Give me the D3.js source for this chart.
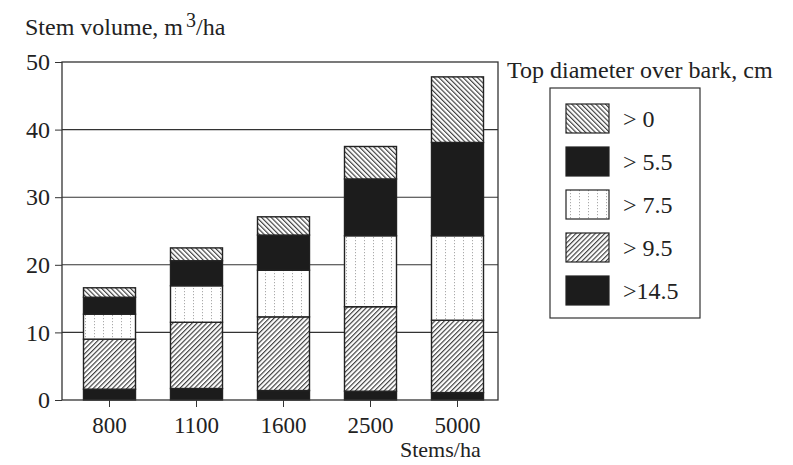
<!DOCTYPE html>
<html><head><meta charset="utf-8">
<script src="https://cdn.jsdelivr.net/npm/d3@7"></script>
<style>body{margin:0;background:#fff}svg{display:block}text{font-family:"Liberation Serif","DejaVu Serif",serif;fill:#222}</style>
</head><body><svg id="c" width="793" height="465"></svg>
<script>
const categories = ["800","1100","1600","2500","5000"];
const classes = [">14.5","> 9.5","> 7.5","> 5.5","> 0"];
const v145 = [1.6, 1.7, 1.4, 1.3, 1.1];
const v95  = [7.4, 9.8, 10.9, 12.5, 10.7];
const v75  = [3.7, 5.4, 6.9, 10.5, 12.5];
const v55  = [2.5, 3.7, 5.2, 8.4, 13.8];
const v0   = [1.4, 1.9, 2.7, 4.8, 9.7];
const yTicks = [0,10,20,30,40,50];
const legendOrder = ["> 0","> 5.5","> 7.5","> 9.5",">14.5"];

const svg = d3.select("#c");
const defs = svg.append("defs");
function hatch(id, angle){
  const p = defs.append("pattern").attr("id",id).attr("patternUnits","userSpaceOnUse")
    .attr("width",3.4).attr("height",3.4).attr("patternTransform",`rotate(${angle})`);
  p.append("rect").attr("width",3.4).attr("height",3.4).attr("fill","#fff");
  p.append("line").attr("x1",0.6).attr("y1",0).attr("x2",0.6).attr("y2",3.4).attr("stroke","#333").attr("stroke-width",1.1);
}
hatch("hBack",-45);
hatch("hFwd",45);
const dp = defs.append("pattern").attr("id","dots").attr("patternUnits","userSpaceOnUse").attr("width",9).attr("height",3);
dp.append("rect").attr("width",9).attr("height",3).attr("fill","#fff");
dp.append("rect").attr("x",4).attr("y",0).attr("width",1).attr("height",1.2).attr("fill","#aaa");

const fills = {">14.5":"#1c1c1c","> 9.5":"url(#hFwd)","> 7.5":"url(#dots)","> 5.5":"#1c1c1c","> 0":"url(#hBack)"};
const seriesVals = {">14.5":v145,"> 9.5":v95,"> 7.5":v75,"> 5.5":v55,"> 0":v0};

const L=62, R=498, T=62, B=400;
const x = d3.scaleBand().domain(categories).range([66,501]).paddingInner(0.4).paddingOuter(0.2);
const y = d3.scaleLinear().domain([0,50]).range([B,T]);

const table = categories.map((c,i)=>{const o={cat:c}; classes.forEach(k=>o[k]=seriesVals[k][i]); return o;});
const stacked = d3.stack().keys(classes)(table);

// gridlines
svg.append("g").selectAll("line").data(yTicks.filter(t=>t>0&&t<50)).join("line")
  .attr("x1",L).attr("x2",R).attr("y1",d=>y(d)).attr("y2",d=>y(d)).attr("stroke","#333").attr("stroke-width",1.1);

// bars
const bw = 52;
svg.append("g").selectAll("g").data(stacked).join("g").attr("fill",d=>fills[d.key])
  .selectAll("rect").data(d=>d).join("rect")
  .attr("x",d=>x(d.data.cat)+x.bandwidth()/2-bw/2).attr("width",bw)
  .attr("y",d=>y(d[1])).attr("height",d=>y(d[0])-y(d[1]))
  .attr("stroke","#222").attr("stroke-width",1.4);

// frame
svg.append("rect").attr("x",L).attr("y",T).attr("width",R-L).attr("height",B-T).attr("fill","none").attr("stroke","#333").attr("stroke-width",1.3);

// y axis
const ya = svg.append("g").attr("transform",`translate(${L},0)`)
  .call(d3.axisLeft(y).tickValues(yTicks).tickSize(7).tickPadding(5).tickFormat(d3.format("d")));
ya.select(".domain").remove();
ya.selectAll("line").attr("stroke","#333");
ya.selectAll("text").attr("font-size",24).attr("fill","#222").style("font-family","Liberation Serif");

// x axis
const xa = svg.append("g").attr("transform",`translate(0,${B})`)
  .call(d3.axisBottom(x).tickSize(7).tickPadding(10));
xa.select(".domain").remove();
xa.selectAll("line").attr("stroke","#333");
xa.selectAll("text").attr("font-size",23).attr("fill","#333").style("font-family","Liberation Serif");

// titles
const yt = svg.append("text").attr("x",25).attr("y",35).attr("font-size",24);
yt.append("tspan").text("Stem volume, m");
yt.append("tspan").attr("dx",3).attr("dy",-8).attr("font-size",20).text("3");
yt.append("tspan").attr("dy",8).text("/ha");
svg.append("text").attr("x",400).attr("y",457).attr("font-size",22).attr("fill","#333").text("Stems/ha");

// legend
svg.append("text").attr("x",507).attr("y",78).attr("font-size",24).text("Top diameter over bark, cm");
svg.append("rect").attr("x",550).attr("y",88).attr("width",150).attr("height",230).attr("fill","none").attr("stroke","#333").attr("stroke-width",1.2);
const lg = svg.append("g").selectAll("g").data(legendOrder).join("g")
  .attr("transform",(d,i)=>`translate(566,${104+i*43})`);
lg.append("rect").attr("width",43).attr("height",29).attr("fill",d=>fills[d]).attr("stroke","#222").attr("stroke-width",1.2);
lg.append("text").attr("x",57).attr("y",23).attr("font-size",24).text(d=>d);
</script></body></html>
